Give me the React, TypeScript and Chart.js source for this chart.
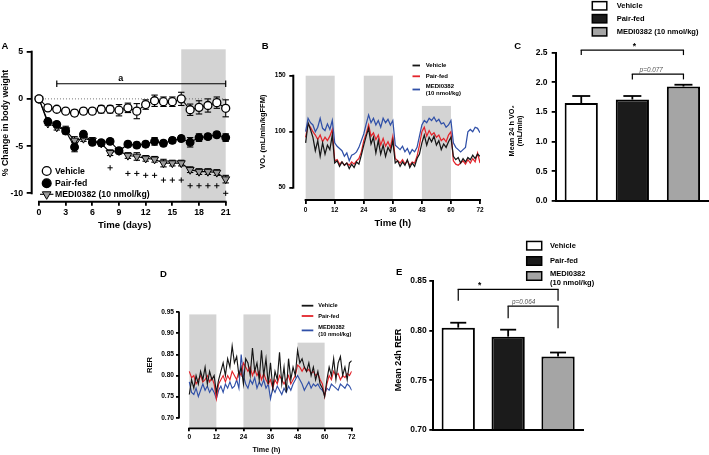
import React, { useEffect, useRef } from "react";
import { Chart, registerables } from "chart.js";
import { drawPoint } from "chart.js/helpers";

Chart.register(...registerables);

const W = 709;
const H = 455;
const FAM = "'Liberation Sans', Arial, Helvetica, sans-serif";
const SHADE = "#d3d3d3";

// ---------------- Panel A: % change in body weight ----------------
const daysA = [0, 1, 2, 3, 4, 5, 6, 7, 8, 9, 10, 11, 12, 13, 14, 15, 16, 17, 18, 19, 20, 21];
const vehicleA = [0, -0.95, -1.1, -1.3, -1.5, -1.3, -1.3, -1.1, -1.1, -1.2, -0.95, -1.3, -0.6, -0.2, -0.3, -0.3, 0.0, -1.15, -0.9, -0.7, -0.4, -1.0];
const vehicleAErr = [0, 0.2, 0.2, 0.2, 0.3, 0.3, 0.3, 0.4, 0.4, 0.6, 0.5, 0.8, 0.5, 0.6, 0.5, 0.5, 0.7, 0.6, 0.7, 0.7, 0.6, 0.9];
const pairFedA = [0, -2.4, -2.7, -3.4, -5.1, -3.75, -4.6, -4.65, -4.5, -5.5, -4.8, -4.9, -4.8, -4.5, -4.7, -4.4, -4.2, -4.6, -4.1, -4.0, -3.8, -4.1];
const pairFedAErr = [0, 0.2, 0.3, 0.3, 0.5, 0.3, 0.3, 0.3, 0.3, 0.3, 0.3, 0.3, 0.3, 0.4, 0.3, 0.3, 0.3, 0.5, 0.4, 0.3, 0.3, 0.4];
const mediA = [0, -2.6, -3.0, -3.3, -4.4, -4.2, -4.4, -4.7, -5.7, -5.5, -6.0, -6.1, -6.3, -6.4, -6.8, -6.8, -6.8, -7.5, -7.7, -7.7, -7.8, -8.5];
const mediAErr = [0, 0.2, 0.3, 0.4, 0.4, 0.3, 0.3, 0.3, 0.3, 0.3, 0.3, 0.4, 0.3, 0.3, 0.4, 0.3, 0.3, 0.3, 0.3, 0.3, 0.3, 0.4];
const plusDaysA = [8, 10, 11, 12, 13, 14, 15, 16, 17, 18, 19, 20, 21];
const plusValsA = [-7.3, -7.9, -7.9, -8.1, -8.1, -8.6, -8.6, -8.6, -9.2, -9.2, -9.2, -9.2, -10.0];
const shadeA = [16, 21];
const bracketA = { from: 2, to: 21, at: 1.6, label: "a", labelDay: 9.2 };
const ticksAX = [0, 3, 6, 9, 12, 15, 18, 21];
const ticksAY = [-10, -5, 0, 5];

// ---------------- Panels B & D: time courses ----------------
const hoursBD = [
  0, 1, 2, 3, 4, 5, 6, 7, 8, 9, 10, 11,
  12, 13, 14, 15, 16, 17, 18, 19, 20, 21, 22, 23,
  24, 25, 26, 27, 28, 29, 30, 31, 32, 33, 34, 35,
  36, 37, 38, 39, 40, 41, 42, 43, 44, 45, 46, 47,
  48, 49, 50, 51, 52, 53, 54, 55, 56, 57, 58, 59,
  60, 61, 62, 63, 64, 65, 66, 67, 68, 69, 70, 71, 72,
];
const darkPeriods = [[0, 12], [24, 36], [48, 60]];
const legendLinesBD = [["Vehicle"], ["Pair-fed"], ["MEDI0382", "(10 nmol/kg)"]];
const lineColors = ["#161616", "#e3242b", "#3050a8"];

const vo2Vehicle = [
  90, 108, 102, 95, 83, 92, 78, 90, 80, 88, 84, 97,
  72, 74, 69, 73, 70, 72, 67, 71, 68, 73, 71, 79,
  88, 96, 103, 89, 95, 81, 92, 80, 88, 78, 86, 82,
  92, 72, 74, 69, 73, 70, 75, 68, 72, 69, 76, 80,
  90, 97, 88, 95, 91, 96, 88, 92, 84, 89, 86, 91,
  95, 78, 75, 77, 72, 76, 73, 77, 75, 79, 76, 80, 78,
];
const vo2PairFed = [
  95, 107, 104, 100, 97, 93, 97, 91, 95, 92, 96, 102,
  74, 75, 71, 73, 70, 72, 70, 73, 71, 74, 76, 82,
  92, 98, 106, 96, 99, 93, 97, 88, 94, 87, 91, 86,
  96, 76, 74, 72, 75, 71, 74, 70, 73, 72, 78, 88,
  100, 104, 96, 101, 97, 99, 95, 97, 92, 94, 91, 97,
  100, 74, 71, 70, 72, 74, 71, 75, 72, 76, 73, 81, 72,
];
const vo2Medi = [
  100, 112, 108, 106, 100, 104, 112, 103, 101, 107, 102, 110,
  90, 87, 85, 83, 78, 81, 74, 79, 80, 82, 86, 92,
  98, 107, 115, 108, 112, 106, 110, 104, 112, 108, 111, 106,
  110, 88, 86, 84, 87, 82, 85, 80, 84, 82, 86, 96,
  106, 110, 108, 112, 110, 113, 109, 111, 107, 108, 104, 106,
  110, 90, 86, 84, 82, 84, 86, 100, 102, 100, 104, 103, 99,
];
const shadeTopB = [150, 150, 123];
const ticksBX = [0, 12, 24, 36, 48, 60, 72];
const ticksBY = [50, 100, 150];

const rerVehicle = [
  0.755, 0.79, 0.77, 0.8, 0.78, 0.81, 0.79, 0.82, 0.78, 0.81, 0.79, 0.8,
  0.76, 0.79, 0.81, 0.83, 0.8, 0.84, 0.82, 0.87, 0.83, 0.845, 0.8, 0.82,
  0.78, 0.84, 0.83, 0.8, 0.865, 0.81, 0.83, 0.79, 0.86, 0.8, 0.84, 0.78,
  0.83, 0.77, 0.81, 0.79, 0.855, 0.78, 0.82, 0.76, 0.84, 0.79, 0.82, 0.8,
  0.86, 0.83, 0.84, 0.82, 0.81, 0.83, 0.8, 0.82, 0.79, 0.81, 0.78, 0.77,
  0.75, 0.79, 0.82, 0.8, 0.84, 0.79, 0.83, 0.845, 0.8, 0.82, 0.79, 0.83, 0.835,
];
const rerPairFed = [
  0.81, 0.795, 0.8, 0.78, 0.79, 0.8, 0.785, 0.79, 0.8, 0.785, 0.795, 0.78,
  0.745, 0.78, 0.79, 0.8, 0.785, 0.8, 0.79, 0.81, 0.8, 0.79, 0.81, 0.8,
  0.83, 0.82, 0.81, 0.82, 0.8, 0.815, 0.8, 0.81, 0.79, 0.805, 0.79, 0.78,
  0.79, 0.77, 0.79, 0.78, 0.8, 0.79, 0.78, 0.79, 0.8, 0.78, 0.79, 0.8,
  0.825, 0.82, 0.81, 0.82, 0.81, 0.815, 0.805, 0.81, 0.8, 0.805, 0.79, 0.78,
  0.75, 0.78, 0.8, 0.79, 0.81, 0.8, 0.805, 0.79, 0.8, 0.795, 0.805, 0.8, 0.81,
];
const rerMedi = [
  0.785, 0.76, 0.755, 0.77, 0.75, 0.765, 0.78, 0.765, 0.775, 0.76, 0.77, 0.76,
  0.745, 0.765, 0.775, 0.76, 0.78, 0.77, 0.785, 0.77, 0.775, 0.79, 0.77, 0.85,
  0.8, 0.78, 0.77, 0.79, 0.78, 0.795, 0.77, 0.785, 0.775, 0.79, 0.77, 0.78,
  0.745, 0.77, 0.76, 0.775, 0.765, 0.755, 0.77, 0.76, 0.775, 0.765, 0.78, 0.79,
  0.8, 0.79, 0.78, 0.765, 0.775, 0.785, 0.77, 0.78, 0.775, 0.78, 0.77, 0.765,
  0.755, 0.77, 0.765, 0.78, 0.775, 0.77, 0.765, 0.78, 0.775, 0.77, 0.78, 0.775, 0.765,
];
const shadeTopD = [0.945, 0.945, 0.878];
const ticksDX = [0, 12, 24, 36, 48, 60, 72];
const ticksDY = [0.7, 0.75, 0.8, 0.85, 0.9, 0.95];

// ---------------- Panels C & E: group means ----------------
const groups = ["Vehicle", "Pair-fed", "MEDI0382 (10 nmol/kg)"];
const barColors = ["#ffffff", "#1b1b1b", "#a5a5a5"];
const vo2Mean = [1.65, 1.71, 1.93];
const vo2Err = [0.12, 0.06, 0.03];
const ticksCY = [0, 0.5, 1, 1.5, 2, 2.5];
const bracketsC = [
  { from: 0, to: 2, at: 2.545, ends: [2.46, 2.46], label: "*", labelPos: 1.04 },
  { from: 1, to: 2, at: 2.14, ends: [2.05, 2.05], label: "p=0.077", labelPos: 1.37 },
];
const rerMean = [0.803, 0.794, 0.774];
const rerErr = [0.005, 0.007, 0.004];
const ticksEY = [0.7, 0.75, 0.8, 0.85];
const bracketsE = [
  { from: 0, to: 2, at: 0.8416, ends: [0.8302, 0.8302], label: "*", labelPos: 0.43 },
  { from: 1, to: 2, at: 0.8247, ends: [0.8124, 0.8024], label: "p=0.064", labelPos: 1.31 },
];

// ---------------- helpers ----------------
const font = (size: number, weight = "bold", style = "normal") => `${style} ${weight} ${size}px ${FAM}`;

function seg(ctx: any, x1: number, y1: number, x2: number, y2: number, w = 1, color = "#000", cap = "butt") {
  ctx.save();
  ctx.beginPath();
  ctx.moveTo(x1, y1);
  ctx.lineTo(x2, y2);
  ctx.lineWidth = w;
  ctx.strokeStyle = color;
  ctx.lineCap = cap;
  ctx.stroke();
  ctx.restore();
}

function txt(ctx: any, s: string, x: number, y: number, f: string, align = "left", base = "middle", color = "#000", rot = 0) {
  ctx.save();
  ctx.translate(x, y);
  if (rot) ctx.rotate(rot);
  ctx.font = f;
  ctx.fillStyle = color;
  ctx.textAlign = align;
  ctx.textBaseline = base;
  ctx.fillText(s, 0, 0);
  ctx.restore();
}

function layoutPad(l: number, t: number, r: number, b: number, yW: number, xH: number) {
  return { left: l - yW, top: t, right: W - r, bottom: H - b - xH };
}

function linScale(o: any) {
  return {
    type: "linear",
    min: o.min,
    max: o.max,
    afterBuildTicks: (s: any) => {
      s.ticks = o.ticks.map((v: number) => ({ value: v }));
    },
    afterFit: (s: any) => {
      if (o.w != null) s.width = o.w;
      if (o.h != null) s.height = o.h;
    },
    ticks: {
      font: { family: FAM, size: o.size, weight: "bold" },
      color: "#000",
      padding: o.pad,
      autoSkip: false,
      maxRotation: 0,
      minRotation: 0,
      callback: o.fmt || ((v: any) => String(v)),
    },
    grid: { display: true, drawOnChartArea: false, drawTicks: true, tickLength: o.tl, lineWidth: o.lw || 1.8, color: "#000" },
    border: { display: o.border || false, color: "#000", width: 2 },
  };
}

function drawAxes(chart: any, xr: number[], yr: number[], w: number) {
  const { ctx, chartArea: ca, scales: { x, y } } = chart;
  const x0 = x.getPixelForValue(xr[0]);
  const x1 = x.getPixelForValue(xr[1]);
  seg(ctx, x0 - w / 2, ca.bottom, x1 + w / 2, ca.bottom, w);
  const y0 = y.getPixelForValue(yr[0]);
  const y1 = y.getPixelForValue(yr[1]);
  seg(ctx, ca.left, y0 + w / 2, ca.left, y1 - w / 2, w);
}

function drawShades(chart: any, periods: number[][], tops: number[]) {
  const { ctx, chartArea: ca, scales: { x, y } } = chart;
  ctx.save();
  ctx.fillStyle = SHADE;
  periods.forEach((p, i) => {
    const x1 = x.getPixelForValue(p[0]);
    const x2 = x.getPixelForValue(p[1]);
    const yt = y.getPixelForValue(tops[i]);
    ctx.fillRect(x1, yt, x2 - x1, ca.bottom - yt);
  });
  ctx.restore();
}

// ---------------- Panel A ----------------
function buildA(canvas: HTMLCanvasElement) {
  const L = 31.7, T = 49.3, R = 225.7, B = 201.7, yW = 26, xH = 30;
  const series = (label: string, vals: number[], errs: number[], style: any) => ({
    label,
    data: daysA.map((d, i) => ({ x: d, y: vals[i] })),
    errors: errs,
    borderColor: "#000",
    borderWidth: 1.1,
    pointBorderColor: "#000",
    pointBorderWidth: 1.3,
    clip: false,
    ...style,
  });
  const datasets: any[] = [
    series("Vehicle", vehicleA, vehicleAErr, { pointStyle: "circle", pointRadius: 4, pointBackgroundColor: "#fff" }),
    series("Pair-fed", pairFedA, pairFedAErr, { pointStyle: "circle", pointRadius: 3.8, pointBackgroundColor: "#000" }),
    series("MEDI0382 (10 nmol/kg)", mediA, mediAErr, { pointStyle: "triangle", pointRotation: 180, pointRadius: 4.6, pointBackgroundColor: "#9b9b9b", pointBorderWidth: 1 }),
    {
      label: "+",
      data: plusDaysA.map((d, i) => ({ x: d, y: plusValsA[i] })),
      showLine: false,
      pointStyle: "cross",
      pointRadius: 2.6,
      pointBorderWidth: 1,
      pointBorderColor: "#000",
      clip: false,
    },
    {
      label: "ref",
      data: [{ x: daysA[0], y: 0 }, { x: daysA[daysA.length - 1], y: 0 }],
      borderColor: "#555",
      borderWidth: 0.8,
      borderDash: [1, 2],
      pointRadius: 0,
    },
  ];
  const plugin = {
    id: "panelA",
    beforeDatasetsDraw(chart: any) {
      const { ctx, chartArea: ca, scales: { x, y } } = chart;
      ctx.save();
      ctx.fillStyle = SHADE;
      const x1 = x.getPixelForValue(shadeA[0]);
      const x2 = x.getPixelForValue(shadeA[1]);
      ctx.fillRect(x1, ca.top, x2 - x1, ca.bottom - ca.top);
      ctx.restore();
      chart.data.datasets.forEach((ds: any) => {
        if (!ds.errors) return;
        ds.data.forEach((p: any, i: number) => {
          const e = ds.errors[i];
          if (!e) return;
          const px = x.getPixelForValue(p.x);
          const y1 = y.getPixelForValue(p.y - e);
          const y2 = y.getPixelForValue(p.y + e);
          seg(ctx, px, y1, px, y2, 1.1);
          seg(ctx, px - 3.2, y1, px + 3.2, y1, 1.1);
          seg(ctx, px - 3.2, y2, px + 3.2, y2, 1.1);
        });
      });
    },
    afterDatasetsDraw(chart: any) {
      const { ctx, scales: { x, y } } = chart;
      drawAxes(chart, [ticksAX[0], ticksAX[ticksAX.length - 1]], [ticksAY[0], ticksAY[ticksAY.length - 1]], 2);
      // bracket "a"
      const bx1 = x.getPixelForValue(bracketA.from);
      const bx2 = x.getPixelForValue(bracketA.to);
      const by = y.getPixelForValue(bracketA.at);
      seg(ctx, bx1, by, bx2, by, 1.2);
      seg(ctx, bx1, by - 3.2, bx1, by + 3.2, 1.2);
      seg(ctx, bx2, by - 3.2, bx2, by + 3.2, 1.2);
      txt(ctx, bracketA.label, x.getPixelForValue(bracketA.labelDay), by - 2.5, font(9), "center", "alphabetic");
      // legend
      const rows = [171, 183.3, 194.3];
      [0, 1, 2].forEach((di, k) => {
        const ds = chart.data.datasets[di];
        const yy = rows[k];
        if (ds.pointStyle === "triangle") seg(ctx, 40, yy, 53.4, yy, 1.1);
        ctx.save();
        ctx.fillStyle = ds.pointBackgroundColor;
        ctx.strokeStyle = "#000";
        ctx.lineWidth = ds.pointBorderWidth;
        drawPoint(ctx, { pointStyle: ds.pointStyle, rotation: ds.pointRotation || 0, radius: ds.pointStyle === "triangle" ? 5 : 4.4, borderWidth: ds.pointBorderWidth }, 46.7, yy);
        ctx.restore();
        txt(ctx, ds.label, 55, yy + 0.3, font(8.7));
      });
      txt(ctx, "A", 1.5, 48.6, font(9.5), "left", "alphabetic");
      txt(ctx, "% Change in body weight", 5.5, 123, font(8.8), "center", "middle", "#000", -Math.PI / 2);
      txt(ctx, "Time (days)", 124.5, 225, font(9.6), "center", "middle");
    },
  };
  return new Chart(canvas, {
    type: "line",
    data: { datasets },
    options: {
      responsive: false,
      animation: false,
      devicePixelRatio: 1,
      layout: { padding: layoutPad(L, T, R, B, yW, xH) },
      plugins: { legend: { display: false }, tooltip: { enabled: false } },
      scales: {
        x: linScale({ min: -0.82, max: 21, ticks: ticksAX, h: xH, size: 8.8, pad: 1.7, tl: 4 }),
        y: linScale({ min: -10.89, max: 5.25, ticks: ticksAY, w: yW, size: 8.8, pad: 3.5, tl: 5 }),
      },
    } as any,
    plugins: [plugin],
  } as any);
}

// ---------------- Panels B & D (time courses) ----------------
function buildSeries(canvas: HTMLCanvasElement, cfg: any) {
  const datasets = cfg.series.map((vals: number[], i: number) => ({
    label: legendLinesBD[i].join(" "),
    data: hoursBD.map((h, k) => ({ x: h, y: vals[k] })),
    borderColor: lineColors[i],
    borderWidth: cfg.lw,
    pointRadius: 0,
    tension: 0,
    order: cfg.order[i],
  }));
  const plugin = {
    id: "series" + cfg.letter,
    beforeDatasetsDraw(chart: any) {
      drawShades(chart, darkPeriods, cfg.shadeTop);
    },
    afterDatasetsDraw(chart: any) {
      const { ctx, scales: { x, y } } = chart;
      drawAxes(chart, [cfg.ticksX[0], cfg.ticksX[cfg.ticksX.length - 1]], [cfg.ticksY[0], cfg.ticksY[cfg.ticksY.length - 1]], cfg.axisW);
      const lg = cfg.legend;
      legendLinesBD.forEach((lines, i) => {
        const yy = lg.rows[i];
        seg(ctx, lg.x1, yy, lg.x2, yy, 1.8, lineColors[i]);
        lines.forEach((s, j) => txt(ctx, s, lg.tx, yy + j * lg.lh + (lines.length > 1 ? -lg.lh / 2 + 0.5 : 0), font(lg.size)));
      });
      txt(ctx, cfg.letter, cfg.letterPos[0], cfg.letterPos[1], font(9.5), "left", "alphabetic");
      const ymid = (y.getPixelForValue(cfg.ticksY[0]) + y.getPixelForValue(cfg.ticksY[cfg.ticksY.length - 1])) / 2;
      txt(ctx, cfg.yTitle, cfg.yTitleX, ymid, font(cfg.yTitleSize), "center", "middle", "#000", -Math.PI / 2);
      const xmid = (x.getPixelForValue(cfg.ticksX[0]) + x.getPixelForValue(cfg.ticksX[cfg.ticksX.length - 1])) / 2;
      txt(ctx, "Time (h)", xmid + cfg.xTitleDx, cfg.xTitleY, font(cfg.xTitleSize), "center", "middle");
    },
  };
  return new Chart(canvas, {
    type: "line",
    data: { datasets },
    options: {
      responsive: false,
      animation: false,
      devicePixelRatio: 1,
      layout: { padding: layoutPad(cfg.L, cfg.T, cfg.R, cfg.B, cfg.yW, cfg.xH) },
      plugins: { legend: { display: false }, tooltip: { enabled: false } },
      scales: {
        x: linScale({ min: cfg.xMin, max: cfg.ticksX[cfg.ticksX.length - 1], ticks: cfg.ticksX, h: cfg.xH, size: cfg.tickSize, pad: cfg.xPad, tl: cfg.tl }),
        y: linScale({ min: cfg.yMin, max: cfg.yMax, ticks: cfg.ticksY, w: cfg.yW, size: cfg.tickSize, pad: cfg.yPad, tl: cfg.tl, fmt: cfg.fmt }),
      },
    } as any,
    plugins: [plugin],
  } as any);
}

const buildB = (canvas: HTMLCanvasElement) =>
  buildSeries(canvas, {
    letter: "B",
    letterPos: [261.7, 49],
    series: [vo2Vehicle, vo2PairFed, vo2Medi],
    order: [1, 2, 0],
    lw: 1.25,
    L: 293.3, T: 75.7, R: 480, B: 200, yW: 20, xH: 20,
    xMin: -5.1, yMin: 39, yMax: 150,
    ticksX: ticksBX, ticksY: ticksBY,
    tickSize: 6.5, tl: 4, xPad: 2.1, yPad: 3.6, axisW: 2,
    shadeTop: shadeTopB,
    legend: { x1: 412.5, x2: 420, tx: 425.7, rows: [65.5, 76.3, 89.5], lh: 6.4, size: 6 },
    yTitle: "VO\u2082 (mL/min/kgFFM)", yTitleX: 262.7, yTitleSize: 7.5,
    xTitleY: 223, xTitleSize: 9.5, xTitleDx: 0,
  });

const buildD = (canvas: HTMLCanvasElement) =>
  buildSeries(canvas, {
    letter: "D",
    letterPos: [160, 276.6],
    series: [rerVehicle, rerPairFed, rerMedi],
    order: [0, 1, 2],
    lw: 1.15,
    L: 179, T: 312.3, R: 351.7, B: 428.3, yW: 20, xH: 20,
    xMin: -4.57, yMin: 0.6749, yMax: 0.95,
    ticksX: ticksDX, ticksY: ticksDY,
    tickSize: 6.6, tl: 3, xPad: 2.1, yPad: 2, axisW: 1.8,
    fmt: (v: any) => Number(v).toFixed(2),
    shadeTop: shadeTopD,
    legend: { x1: 301.7, x2: 313.3, tx: 318.3, rows: [305.7, 316, 330.4], lh: 6.6, size: 5.6 },
    yTitle: "RER", yTitleX: 150, yTitleSize: 7.6,
    xTitleY: 450, xTitleSize: 7.2, xTitleDx: -4,
  });

// ---------------- Panels C & E (bars) ----------------
function buildBars(canvas: HTMLCanvasElement, cfg: any) {
  const plugin = {
    id: "bars" + cfg.letter,
    afterDatasetsDraw(chart: any) {
      const { ctx, scales: { x, y } } = chart;
      // error bars (upper only)
      cfg.values.forEach((v: number, i: number) => {
        const px = x.getPixelForValue(i);
        const yt = y.getPixelForValue(v);
        const ye = y.getPixelForValue(v + cfg.errors[i]);
        seg(ctx, px, yt, px, ye, 1.8);
        seg(ctx, px - cfg.cap, ye, px + cfg.cap, ye, 1.8);
      });
      // significance brackets
      const step = x.getPixelForValue(1) - x.getPixelForValue(0);
      cfg.brackets.forEach((b: any) => {
        const x1 = x.getPixelForValue(b.from);
        const x2 = x.getPixelForValue(b.to);
        const yb = y.getPixelForValue(b.at);
        seg(ctx, x1, yb, x2, yb, 1.2, "#000", "square");
        seg(ctx, x1, yb, x1, y.getPixelForValue(b.ends[0]), 1.2);
        seg(ctx, x2, yb, x2, y.getPixelForValue(b.ends[1]), 1.2);
        const lx = x.getPixelForValue(0) + b.labelPos * step;
        if (b.label === "*") txt(ctx, "*", lx, yb - 1, font(8.5), "center", "alphabetic");
        else txt(ctx, b.label, lx, yb - 2.2, font(6.4, "normal", "italic"), "center", "alphabetic", "#555");
      });
      // legend
      const lg = cfg.legend;
      groups.forEach((g, i) => {
        const cy = lg.rows[i];
        ctx.save();
        ctx.fillStyle = barColors[i];
        ctx.fillRect(lg.x, cy - lg.h / 2, lg.w, lg.h);
        ctx.strokeStyle = "#000";
        ctx.lineWidth = 1.5;
        ctx.strokeRect(lg.x, cy - lg.h / 2, lg.w, lg.h);
        ctx.restore();
        const lines = lg.wrap && i === 2 ? ["MEDI0382", "(10 nmol/kg)"] : [g];
        lines.forEach((s: string, j: number) => txt(ctx, s, lg.tx, cy + (lines.length > 1 ? -1.7 + j * 9 : 0), font(lg.size)));
      });
      txt(ctx, cfg.letter, cfg.letterPos[0], cfg.letterPos[1], font(9.5), "left", "alphabetic");
      const ymid = (chart.chartArea.top + chart.chartArea.bottom) / 2 + cfg.yTitleDy;
      cfg.yTitle.forEach((s: string, j: number) =>
        txt(ctx, s, cfg.yTitleX + j * cfg.yTitleLh, ymid, font(cfg.yTitleSize), "center", "middle", "#000", -Math.PI / 2)
      );
    },
  };
  return new Chart(canvas, {
    type: "bar",
    data: {
      labels: groups,
      datasets: [
        {
          label: cfg.letter,
          data: cfg.values,
          backgroundColor: barColors,
          borderColor: "#000",
          borderWidth: 2,
          barPercentage: cfg.barPct,
          categoryPercentage: 1,
          base: cfg.yMin,
        },
      ],
    },
    options: {
      responsive: false,
      animation: false,
      devicePixelRatio: 1,
      layout: { padding: layoutPad(cfg.L, cfg.T, cfg.R, cfg.B, cfg.yW, 4) },
      plugins: { legend: { display: false }, tooltip: { enabled: false } },
      scales: {
        x: {
          type: "category",
          ticks: { display: false },
          grid: { display: false },
          border: { display: true, color: "#000", width: 2 },
          afterFit: (s: any) => {
            s.height = 4;
          },
        },
        y: linScale({ min: cfg.yMin, max: cfg.yMax, ticks: cfg.ticks, w: cfg.yW, size: cfg.tickSize, pad: cfg.yPad, tl: 4, fmt: cfg.fmt, border: true }),
      },
    } as any,
    plugins: [plugin],
  } as any);
}

const buildC = (canvas: HTMLCanvasElement) =>
  buildBars(canvas, {
    letter: "C",
    letterPos: [514.3, 49.3],
    values: vo2Mean,
    errors: vo2Err,
    brackets: bracketsC,
    L: 555.7, T: 52.7, R: 709, B: 201, yW: 25,
    yMin: 0, yMax: 2.5, ticks: ticksCY, tickSize: 8.5, yPad: 4.2,
    fmt: (v: any) => Number(v).toFixed(1),
    barPct: 0.65, cap: 9,
    legend: { x: 592.3, w: 14.5, h: 8.3, tx: 616.7, rows: [5.8, 18.7, 31.8], size: 7.5, wrap: false },
    yTitle: ["Mean 24 h VO\u2082", "(mL/min)"], yTitleX: 511.7, yTitleLh: 8.4, yTitleSize: 7.3, yTitleDy: 4,
  });

const buildE = (canvas: HTMLCanvasElement) =>
  buildBars(canvas, {
    letter: "E",
    letterPos: [396, 275],
    values: rerMean,
    errors: rerErr,
    brackets: bracketsE,
    L: 433.3, T: 281, R: 583, B: 430, yW: 25,
    yMin: 0.7, yMax: 0.85, ticks: ticksEY, tickSize: 8.5, yPad: 2.6,
    fmt: (v: any) => Number(v).toFixed(2),
    barPct: 0.667, cap: 8,
    legend: { x: 526.7, w: 15, h: 8.5, tx: 550, rows: [245.7, 261, 276], size: 7.5, wrap: true },
    yTitle: ["Mean 24h RER"], yTitleX: 398.3, yTitleLh: 0, yTitleSize: 9, yTitleDy: 4.5,
  });

function Panel({ build }: { build: (c: HTMLCanvasElement) => Chart }) {
  const ref = useRef<HTMLCanvasElement>(null);
  useEffect(() => {
    const chart = build(ref.current as HTMLCanvasElement);
    return () => chart.destroy();
  }, [build]);
  return (
    <canvas
      ref={ref}
      width={W}
      height={H}
      style={{ position: "absolute", left: 0, top: 0, width: W, height: H, pointerEvents: "none" }}
    />
  );
}

export default function App() {
  return (
    <div style={{ position: "fixed", left: 0, top: 0, width: W, height: H, background: "#fff", overflow: "hidden" }}>
      <Panel build={buildA} />
      <Panel build={buildB} />
      <Panel build={buildC} />
      <Panel build={buildD} />
      <Panel build={buildE} />
    </div>
  );
}
